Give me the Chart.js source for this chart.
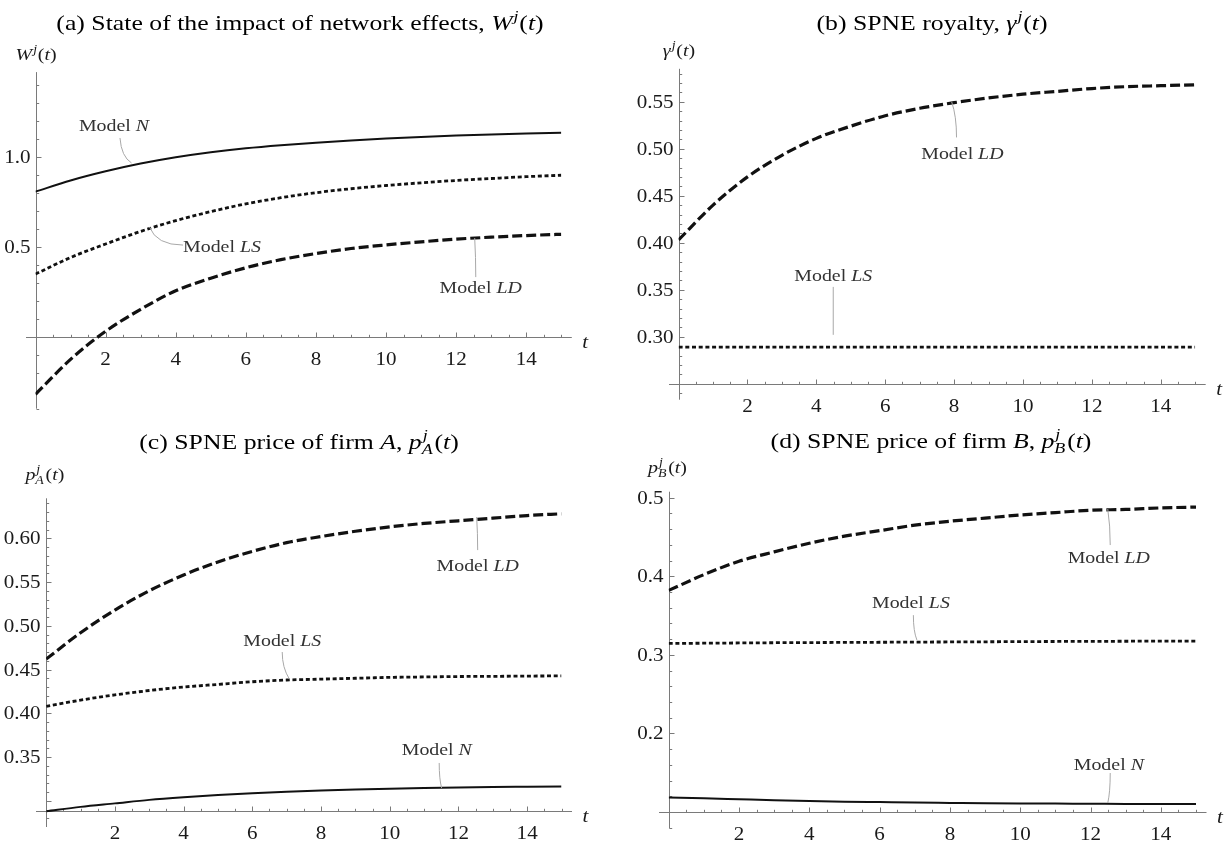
<!DOCTYPE html>
<html>
<head>
<meta charset="utf-8">
<script src="https://cdn.jsdelivr.net/npm/chart.js@4.4.1/dist/chart.umd.min.js"></script>
<style>
  html, body { margin: 0; padding: 0; background: #fff; }
  #wrap { position: relative; width: 1224px; height: 844px; overflow: hidden; }
  #wrap canvas { position: absolute; }
</style>
</head>
<body>
<div id="wrap">
  <canvas id="pa" width="612" height="420" style="left:0;top:0;width:612px;height:420px"></canvas>
  <canvas id="pb" width="612" height="420" style="left:612px;top:0;width:612px;height:420px"></canvas>
  <canvas id="pc" width="612" height="424" style="left:0;top:420px;width:612px;height:424px"></canvas>
  <canvas id="pd" width="612" height="424" style="left:612px;top:420px;width:612px;height:424px"></canvas>
</div>
<script>
// ── DATA ─────────────────────────────────────────────────
const T = [0, 1, 2, 3, 4, 5, 6, 7, 8, 9, 10, 11, 12, 13, 14, 15];

// (a) W^j(t)
const W_N  = [0.806, 0.868, 0.919, 0.962, 0.997, 1.025, 1.047, 1.064, 1.078, 1.090, 1.101, 1.110, 1.118, 1.124, 1.129, 1.133];
const W_LS = [0.348, 0.440, 0.515, 0.585, 0.645, 0.695, 0.738, 0.772, 0.800, 0.822, 0.840, 0.855, 0.868, 0.879, 0.889, 0.897];
const W_LD = [-0.320, -0.126, 0.030, 0.152, 0.255, 0.325, 0.383, 0.428, 0.462, 0.490, 0.510, 0.527, 0.542, 0.553, 0.562, 0.569];

// (b) gamma^j(t)
const G_LD = [0.403, 0.440, 0.470, 0.493, 0.511, 0.524, 0.535, 0.543, 0.549, 0.554, 0.558, 0.561, 0.564, 0.566, 0.567, 0.568];
const G_LS = [0.289, 0.289, 0.289, 0.289, 0.289, 0.289, 0.289, 0.289, 0.289, 0.289, 0.289, 0.289, 0.289, 0.289, 0.289, 0.289];

// (c) p_A^j(t)
const PA_LD = [0.462, 0.492, 0.518, 0.540, 0.558, 0.573, 0.585, 0.595, 0.602, 0.608, 0.613, 0.617, 0.620, 0.623, 0.626, 0.628];
const PA_LS = [0.408, 0.415, 0.421, 0.426, 0.430, 0.433, 0.436, 0.438, 0.439, 0.440, 0.441, 0.4415, 0.442, 0.4422, 0.4425, 0.4427];
const PA_N  = [0.288, 0.293, 0.297, 0.301, 0.304, 0.3065, 0.3085, 0.3102, 0.3116, 0.3128, 0.3138, 0.3146, 0.3152, 0.3157, 0.3160, 0.3163];

// (d) p_B^j(t)
const PB_LD = [0.382, 0.402, 0.419, 0.431, 0.442, 0.451, 0.458, 0.465, 0.470, 0.474, 0.478, 0.481, 0.484, 0.485, 0.487, 0.488];
const PB_LS = [0.3145, 0.3148, 0.3151, 0.3154, 0.3156, 0.3158, 0.3160, 0.3162, 0.3164, 0.3166, 0.3168, 0.3170, 0.3171, 0.3173, 0.3174, 0.3175];
const PB_N  = [0.1185, 0.1174, 0.1162, 0.1150, 0.1140, 0.1132, 0.1126, 0.1120, 0.1116, 0.1112, 0.1109, 0.1107, 0.1105, 0.1103, 0.1102, 0.1101];

// tick labels
const X_TICKS  = [2, 4, 6, 8, 10, 12, 14];
const A_YTICKS = [0.5, 1.0];
const A_YLABEL = ['0.5', '1.0'];
const B_YTICKS = [0.30, 0.35, 0.40, 0.45, 0.50, 0.55];
const B_YLABEL = ['0.30', '0.35', '0.40', '0.45', '0.50', '0.55'];
const C_YTICKS = [0.35, 0.40, 0.45, 0.50, 0.55, 0.60];
const C_YLABEL = ['0.35', '0.40', '0.45', '0.50', '0.55', '0.60'];
const D_YTICKS = [0.2, 0.3, 0.4, 0.5];
const D_YLABEL = ['0.2', '0.3', '0.4', '0.5'];

// ── STYLE ────────────────────────────────────────────────
const SX    = 1.17;   // the reference figure is stretched sideways
const SERIF = '"Liberation Serif", "Times New Roman", serif';
const AXIS  = '#7a7a7a';
const INK   = '#1a1a1a';

const LINE = {
  N:  { borderColor: '#111', borderWidth: 2,   borderDash: [] },
  LS: { borderColor: '#111', borderWidth: 2.8, borderDash: [4, 2.7] },
  LD: { borderColor: '#111', borderWidth: 3.2, borderDash: [10, 4] },
};

// ── MATH TEXT ────────────────────────────────────────────
// segs: { t, i } plain runs, or { sup, sub } stacked scripts
function setFont(ctx, size, italic) {
  ctx.font = (italic ? 'italic ' : '') + size + 'px ' + SERIF;
}

function segWidth(ctx, s, size) {
  if (s.sup || s.sub) {
    setFont(ctx, size * 0.7, true);
    const a = s.sup ? ctx.measureText(s.sup).width : 0;
    const b = s.sub ? ctx.measureText(s.sub).width : 0;
    return Math.max(a, b) + 1.5;
  }
  setFont(ctx, size, s.i);
  return ctx.measureText(s.t).width;
}

function put(ctx, text, x, y) {
  ctx.save();
  ctx.translate(x, y);
  ctx.scale(SX, 1);
  ctx.fillText(text, 0, 0);
  ctx.restore();
}

function drawMath(ctx, segs, x, y, size, align, color) {
  const w = segs.reduce((acc, s) => acc + segWidth(ctx, s, size), 0) * SX;
  let cx = align === 'center' ? x - w / 2 : align === 'right' ? x - w : x;
  ctx.fillStyle = color;
  ctx.textAlign = 'left';
  ctx.textBaseline = 'alphabetic';
  segs.forEach(s => {
    const sw = segWidth(ctx, s, size);
    if (s.sup || s.sub) {
      setFont(ctx, size * 0.7, true);
      if (s.sup) put(ctx, s.sup, cx + 1, y - size * 0.40);
      if (s.sub) put(ctx, s.sub, cx, y + size * 0.22);
    } else {
      setFont(ctx, size, s.i);
      put(ctx, s.t, cx, y);
    }
    cx += sw * SX;
  });
}

const model = name => [{ t: 'Model ' }, { t: name, i: true }];
const tArg  = [{ t: '(' }, { t: 't', i: true }, { t: ')' }];

// ── PLUGIN: Mathematica-style axes, labels, callouts ─────
const mathPlot = {
  id: 'mathPlot',
  beforeDatasetsDraw(chart, args, o) {
    const { ctx, scales: { x, y } } = chart;
    const x0 = Math.round(x.getPixelForValue(0)) + 0.5;
    const yO = Math.round(y.getPixelForValue(o.origin)) + 0.5;
    const xEnd = x.getPixelForValue(15);
    ctx.save();
    ctx.strokeStyle = AXIS;
    ctx.lineWidth = 1;
    ctx.beginPath();
    ctx.moveTo(x0 - 10.5, yO); ctx.lineTo(xEnd + 10.5, yO);
    ctx.moveTo(x0, y.top);     ctx.lineTo(x0, y.bottom);
    for (let i = 1; i <= 30; i++) {
      const px = Math.round(x.getPixelForValue(i / 2)) + 0.5;
      ctx.moveTo(px, yO); ctx.lineTo(px, yO - (i % 4 === 0 ? 5 : 2.7));
    }
    for (let i = 0; i < o.minor.n; i++) {
      const v = o.minor.from + i * o.minor.step;
      if (Math.abs(v - o.origin) < 1e-6) continue;
      const major = o.major.some(m => Math.abs(m - v) < 1e-6);
      const py = Math.round(y.getPixelForValue(v)) + 0.5;
      ctx.moveTo(x0, py); ctx.lineTo(x0 + (major ? 5 : 2.7), py);
    }
    ctx.stroke();

    X_TICKS.forEach(v => {
      drawMath(ctx, [{ t: String(v) }], x.getPixelForValue(v), yO + 27, 18, 'center', INK);
    });
    o.yTicks.forEach((v, i) => {
      drawMath(ctx, [{ t: o.yLabels[i] }], x0 - 6, y.getPixelForValue(v) + 6, 18, 'right', INK);
    });
    drawMath(ctx, [{ t: 't', i: true }], xEnd + 24, yO + 10, 18, 'center', INK);

    drawMath(ctx, o.title, o.titleAt[0], o.titleAt[1], 22, 'center', '#000');
    drawMath(ctx, o.yName, o.yNameAt[0], o.yNameAt[1], 17, 'left', INK);
    ctx.restore();
  },
  afterDatasetsDraw(chart, args, o) {
    const { ctx, scales: { x, y } } = chart;
    const P = p => [x.getPixelForValue(p[0]), y.getPixelForValue(p[1])];
    ctx.save();
    ctx.strokeStyle = '#a8a8a8';
    ctx.lineWidth = 1;
    o.callouts.forEach(c => {
      const a = P(c.from), b = P(c.to);
      ctx.beginPath();
      ctx.moveTo(a[0], a[1]);
      if (c.ctrl) { const k = P(c.ctrl); ctx.quadraticCurveTo(k[0], k[1], b[0], b[1]); }
      else ctx.lineTo(b[0], b[1]);
      ctx.stroke();
      const t = P(c.at);
      drawMath(ctx, model(c.name), t[0], t[1] + 6, 17, 'center', '#333');
    });
    ctx.restore();
  },
};

// ── CHART FACTORY ────────────────────────────────────────
function series(vals, label, style) {
  return {
    label,
    data: vals.map((v, i) => ({ x: T[i], y: v })),
    ...style,
    fill: false,
    pointRadius: 0,
    cubicInterpolationMode: 'monotone',
  };
}

function panel(id, cfg) {
  return new Chart(document.getElementById(id), {
    type: 'line',
    data: { datasets: cfg.datasets },
    options: {
      responsive: false,
      animation: false,
      events: [],
      layout: { padding: cfg.padding },
      scales: {
        x: { type: 'linear', min: 0, max: 15, display: false },
        y: { type: 'linear', min: cfg.yRange[0], max: cfg.yRange[1], display: false },
      },
      plugins: {
        legend: { display: false },
        tooltip: { enabled: false },
        mathPlot: cfg.axes,
      },
    },
    plugins: [mathPlot],
  });
}

// (a) State of the impact of network effects
panel('pa', {
  padding: { left: 35.5, right: 50.7, top: 72.1, bottom: 11.3 },
  yRange: [-0.4, 1.47],
  datasets: [series(W_N, 'Model N', LINE.N), series(W_LS, 'Model LS', LINE.LS), series(W_LD, 'Model LD', LINE.LD)],
  axes: {
    origin: 0,
    minor: { from: -0.4, step: 0.1, n: 19 },
    major: [0.5, 1.0],
    yTicks: A_YTICKS, yLabels: A_YLABEL,
    title: [{ t: '(a) State of the impact of network effects, ' }, { t: 'W', i: true }, { sup: 'j' }, ...tArg],
    titleAt: [300, 30],
    yName: [{ t: 'W', i: true }, { sup: 'j' }, ...tArg],
    yNameAt: [15.6, 60],
    callouts: [
      { name: 'N',  at: [2.24, 1.176], from: [2.41, 1.104], ctrl: [2.45, 1.0], to: [2.74, 0.965] },
      { name: 'LS', at: [5.32, 0.504], from: [4.21, 0.509], ctrl: [3.45, 0.509], to: [3.25, 0.61] },
      { name: 'LD', at: [12.7, 0.276], from: [12.56, 0.331], ctrl: [12.56, 0.44], to: [12.53, 0.548] },
    ],
  },
});

// (b) SPNE royalty
panel('pb', {
  padding: { left: 66.6, right: 28.8, top: 68.8, bottom: 20.3 },
  yRange: [0.233, 0.585],
  datasets: [series(G_LD, 'Model LD', LINE.LD), series(G_LS, 'Model LS', LINE.LS)],
  axes: {
    origin: 0.25,
    minor: { from: 0.24, step: 0.01, n: 35 },
    major: [0.25, 0.30, 0.35, 0.40, 0.45, 0.50, 0.55],
    yTicks: B_YTICKS, yLabels: B_YLABEL,
    title: [{ t: '(b) SPNE royalty, ' }, { t: 'γ', i: true }, { sup: 'j' }, ...tArg],
    titleAt: [320, 30],
    yName: [{ t: 'γ', i: true }, { sup: 'j' }, ...tArg],
    yNameAt: [50.8, 56],
    callouts: [
      { name: 'LD', at: [8.24, 0.4954], from: [8.07, 0.512], ctrl: [8.07, 0.535], to: [7.93, 0.5497] },
      { name: 'LS', at: [4.49, 0.3656], from: [4.49, 0.353], to: [4.49, 0.302] },
    ],
  },
});

// (c) SPNE price of firm A
panel('pc', {
  padding: { left: 46.2, right: 50.5, top: 78.3, bottom: 17 },
  yRange: [0.27, 0.6457],
  datasets: [series(PA_LD, 'Model LD', LINE.LD), series(PA_LS, 'Model LS', LINE.LS), series(PA_N, 'Model N', LINE.N)],
  axes: {
    origin: 0.288,
    minor: { from: 0.28, step: 0.01, n: 37 },
    major: [0.30, 0.35, 0.40, 0.45, 0.50, 0.55, 0.60],
    yTicks: C_YTICKS, yLabels: C_YLABEL,
    title: [{ t: '(c) SPNE price of firm ' }, { t: 'A', i: true }, { t: ', ' }, { t: 'p', i: true }, { sup: 'j', sub: 'A' }, ...tArg],
    titleAt: [299, 29],
    yName: [{ t: 'p', i: true }, { sup: 'j', sub: 'A' }, ...tArg],
    yNameAt: [25.4, 60],
    callouts: [
      { name: 'LD', at: [12.56, 0.5695], from: [12.56, 0.5865], ctrl: [12.56, 0.606], to: [12.53, 0.6243] },
      { name: 'LS', at: [6.87, 0.4838], from: [6.87, 0.470], ctrl: [6.87, 0.452], to: [7.08, 0.439] },
      { name: 'N',  at: [11.37, 0.3593], from: [11.44, 0.3432], ctrl: [11.44, 0.325], to: [11.51, 0.3146] },
    ],
  },
});

// (d) SPNE price of firm B
panel('pd', {
  padding: { left: 56.7, right: 28, top: 71.7, bottom: 15.5 },
  yRange: [0.079, 0.5076],
  datasets: [series(PB_LD, 'Model LD', LINE.LD), series(PB_LS, 'Model LS', LINE.LS), series(PB_N, 'Model N', LINE.N)],
  axes: {
    origin: 0.1,
    minor: { from: 0.08, step: 0.02, n: 22 },
    major: [0.1, 0.2, 0.3, 0.4, 0.5],
    yTicks: D_YTICKS, yLabels: D_YLABEL,
    title: [{ t: '(d) SPNE price of firm ' }, { t: 'B', i: true }, { t: ', ' }, { t: 'p', i: true }, { sup: 'j', sub: 'B' }, ...tArg],
    titleAt: [319, 28],
    yName: [{ t: 'p', i: true }, { sup: 'j', sub: 'B' }, ...tArg],
    yNameAt: [36, 53],
    callouts: [
      { name: 'LD', at: [12.52, 0.4245], from: [12.56, 0.4397], ctrl: [12.56, 0.465], to: [12.49, 0.4856] },
      { name: 'LS', at: [6.89, 0.367], from: [6.96, 0.3505], ctrl: [6.96, 0.33], to: [7.06, 0.3189] },
      { name: 'N',  at: [12.52, 0.161], from: [12.56, 0.1496], ctrl: [12.56, 0.125], to: [12.49, 0.1114] },
    ],
  },
});
</script>
</body>
</html>
